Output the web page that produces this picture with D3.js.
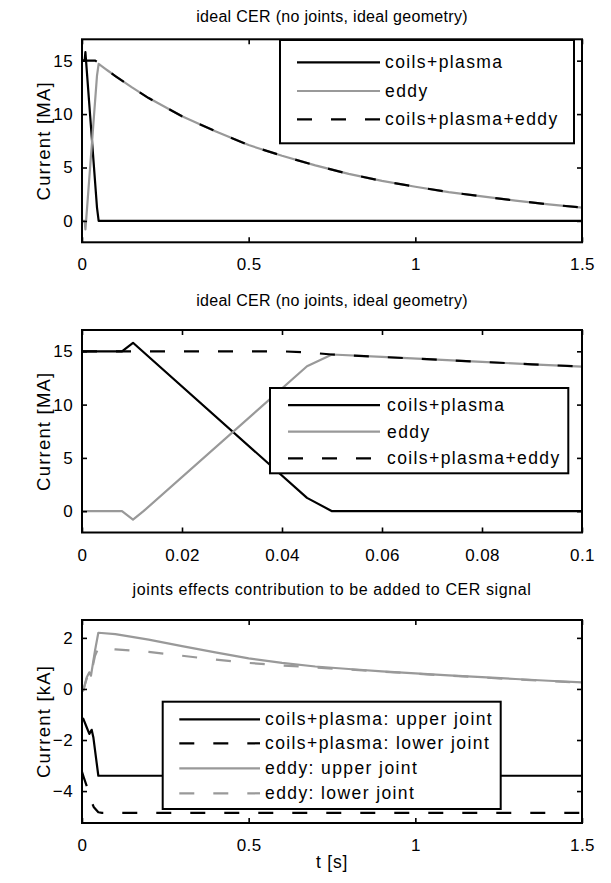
<!DOCTYPE html>
<html>
<head>
<meta charset="utf-8">
<script src="https://cdn.jsdelivr.net/npm/d3@7"></script>
<style>
  html, body { margin: 0; padding: 0; background: #fff; }
  svg { display: block; font-family: "Liberation Sans", Arial, Helvetica, sans-serif; }
</style>
</head>
<body>
<svg id="chart" width="611" height="883"></svg>
<script>
// ---------------- DATA ----------------
// Panels 1 & 2: currents in MA vs time in s
const coilsT = [0, 0.008, 0.0102, 0.045, 0.05, 1.5];
const coilsV = [15, 15, 15.8, 1.25, 0, 0];

const eddyT = [0, 0.008, 0.0102, 0.0123, 0.045, 0.05, 0.06, 0.07, 0.08, 0.09, 0.1,
               0.15, 0.2, 0.3, 0.4, 0.5, 0.6, 0.7, 0.8, 0.9, 1.0, 1.1, 1.2, 1.3, 1.4, 1.5];
const eddyV = [0, 0, -0.8, 0, 13.6, 14.7, 14.47, 14.24, 14.01, 13.78, 13.56,
               12.5, 11.5, 9.8, 8.4, 7.1, 6.1, 5.2, 4.4, 3.75, 3.2, 2.7, 2.3, 1.9, 1.55, 1.25];

const totalT = [0, 0.04, 0.045, 0.05, 0.06, 0.07, 0.08, 0.09, 0.1,
                0.15, 0.2, 0.3, 0.4, 0.5, 0.6, 0.7, 0.8, 0.9, 1.0, 1.1, 1.2, 1.3, 1.4, 1.5];
const totalV = [15, 15, 14.9, 14.7, 14.47, 14.24, 14.01, 13.78, 13.56,
                12.5, 11.5, 9.8, 8.4, 7.1, 6.1, 5.2, 4.4, 3.75, 3.2, 2.7, 2.3, 1.9, 1.55, 1.25];

// Panel 3: joint contributions in kA
const cpUpperT = [0, 0.004, 0.014, 0.022, 0.029, 0.034, 0.049, 1.5];
const cpUpperV = [-1.15, -1.17, -1.5, -1.76, -1.6, -1.89, -3.4, -3.4];

const cpLowerT = [0, 0.005, 0.014, 0.025, 0.035, 0.049, 0.06, 1.5];
const cpLowerV = [-3.25, -3.45, -3.8, -4.3, -4.62, -4.83, -4.85, -4.85];

const edUpperT = [0, 0.004, 0.014, 0.022, 0.027, 0.034, 0.039, 0.049, 0.1,
                  0.2, 0.3, 0.4, 0.5, 0.6, 0.7, 0.8, 0.9, 1.0, 1.1, 1.2, 1.3, 1.4, 1.5];
const edUpperV = [0, -0.05, 0.45, 0.65, 0.52, 1.1, 1.5, 2.2, 2.15,
                  1.93, 1.68, 1.43, 1.2, 1.02, 0.88, 0.78, 0.69, 0.61, 0.53, 0.46, 0.39, 0.32, 0.26];

const edLowerT = [0, 0.004, 0.014, 0.022, 0.027, 0.034, 0.039, 0.049, 0.1,
                  0.2, 0.3, 0.4, 0.5, 0.6, 0.7, 0.8, 0.9, 1.0, 1.1, 1.2, 1.3, 1.4, 1.5];
const edLowerV = [-0.1, -0.05, 0.4, 0.6, 0.5, 1.0, 1.3, 1.6, 1.55,
                  1.45, 1.3, 1.15, 1.02, 0.92, 0.84, 0.76, 0.68, 0.6, 0.52, 0.45, 0.38, 0.31, 0.24];

// Tick values
const xTicksLong = [0, 0.5, 1, 1.5];
const xTicksShort = [0, 0.02, 0.04, 0.06, 0.08, 0.1];
const yTicksMA = [0, 5, 10, 15];
const yTicksKA = [-4, -2, 0, 2];

// Texts
const titles = ["ideal CER (no joints, ideal geometry)",
                "ideal CER (no joints, ideal geometry)",
                "joints effects contribution to be added to CER signal"];
const yLabels = ["Current [MA]", "Current [MA]", "Current [kA]"];
const xLabel = "t [s]";
const legend12 = ["coils+plasma", "eddy", "coils+plasma+eddy"];
const legend3 = ["coils+plasma: upper joint", "coils+plasma: lower joint",
                 "eddy: upper joint", "eddy: lower joint"];

// ---------------- STYLE / LAYOUT ----------------
const BLACK = "#000", GRAY = "#999";
const DASH = "15,19";
const X0 = 82, X1 = 582;
const FONT = "Liberation Sans, Arial, sans-serif";

const zip = (T, V) => T.map((t, i) => ({t: t, v: V[i]}));

const panels = [
  { top: 39.3, bottom: 242.3, xdom: [0, 1.5], ydom: [-2, 17], xt: xTicksLong, yt: yTicksMA, titleY: 22, titleLS: 0.3,
    series: [
      {d: zip(coilsT, coilsV), c: BLACK, dash: null},
      {d: zip(eddyT, eddyV), c: GRAY, dash: null},
      {d: zip(totalT, totalV), c: BLACK, dash: DASH}],
    legend: {x0: 280, x1: 574, y0: 40, y1: 143.3, rows: [62.3, 91, 119.3], lx0: 297, lx1: 380, tx: 385, labels: legend12,
             styles: [[BLACK, null], [GRAY, null], [BLACK, DASH]]}
  },
  { top: 330, bottom: 532.5, xdom: [0, 0.1], ydom: [-2, 17], xt: xTicksShort, yt: yTicksMA, titleY: 306, titleLS: 0.3,
    series: [
      {d: zip(coilsT, coilsV), c: BLACK, dash: null},
      {d: zip(eddyT, eddyV), c: GRAY, dash: null},
      {d: zip(totalT, totalV), c: BLACK, dash: DASH}],
    legend: {x0: 270, x1: 568.3, y0: 388, y1: 473.3, rows: [405.2, 431.7, 458.3], lx0: 288, lx1: 380, tx: 387, labels: legend12,
             styles: [[BLACK, null], [GRAY, null], [BLACK, DASH]]}
  },
  { top: 620, bottom: 823, xdom: [0, 1.5], ydom: [-5.25, 2.7], xt: xTicksLong, yt: yTicksKA, titleY: 595, titleLS: 0.6,
    series: [
      {d: zip(edUpperT, edUpperV), c: GRAY, dash: null},
      {d: zip(edLowerT, edLowerV), c: GRAY, dash: DASH},
      {d: zip(cpUpperT, cpUpperV), c: BLACK, dash: null},
      {d: zip(cpLowerT, cpLowerV), c: BLACK, dash: DASH}],
    legend: {x0: 162.7, x1: 500.7, y0: 701.7, y1: 809, rows: [719.3, 743.3, 768.3, 793.3], lx0: 179.3, lx1: 260, tx: 265, labels: legend3,
             styles: [[BLACK, null], [BLACK, DASH], [GRAY, null], [GRAY, DASH]]}
  }
];

const svg = d3.select("#chart");
const fmt = d => d3.format("~g")(d);

panels.forEach((p, i) => {
  const x = d3.scaleLinear().domain(p.xdom).range([X0, X1]);
  const y = d3.scaleLinear().domain(p.ydom).range([p.bottom, p.top]);
  const g = svg.append("g");

  const cid = "clip" + i;
  svg.append("clipPath").attr("id", cid).append("rect")
    .attr("x", X0).attr("y", p.top).attr("width", X1 - X0).attr("height", p.bottom - p.top);

  const line = d3.line().x(d => x(d.t)).y(d => y(d.v));
  const lines = g.append("g").attr("clip-path", `url(#${cid})`);
  p.series.forEach(s => {
    lines.append("path").datum(s.d).attr("d", line)
      .attr("fill", "none").attr("stroke", s.c).attr("stroke-width", 2.2)
      .attr("stroke-linejoin", "round")
      .attr("stroke-dasharray", s.dash);
  });

  // axes: ticks inward on all four sides
  const tl = 5;
  const axB = d3.axisBottom(x).tickValues(p.xt).tickSize(-tl).tickPadding(16).tickFormat(fmt);
  const axT = d3.axisTop(x).tickValues(p.xt).tickSize(-tl).tickFormat("");
  const axL = d3.axisLeft(y).tickValues(p.yt).tickSize(-tl).tickPadding(9).tickFormat(fmt);
  const axR = d3.axisRight(y).tickValues(p.yt).tickSize(-tl).tickFormat("");
  [[axB, `translate(0,${p.bottom})`], [axT, `translate(0,${p.top})`],
   [axL, `translate(${X0},0)`], [axR, `translate(${X1},0)`]].forEach(([ax, tr]) => {
    const a = g.append("g").attr("transform", tr).call(ax);
    a.select(".domain").remove();
    a.selectAll("line").attr("stroke", "#000").attr("stroke-width", 1.6);
    a.selectAll("text").attr("font-size", 17).attr("fill", "#000")
      .attr("font-family", FONT).attr("letter-spacing", 0.4);
  });

  // frame
  g.append("rect").attr("x", X0).attr("y", p.top).attr("width", X1 - X0).attr("height", p.bottom - p.top)
    .attr("fill", "none").attr("stroke", "#000").attr("stroke-width", 2);

  // title
  g.append("text").attr("x", (X0 + X1) / 2).attr("y", p.titleY)
    .attr("text-anchor", "middle").attr("font-size", 16).attr("letter-spacing", p.titleLS).text(titles[i]);

  // y label
  g.append("text")
    .attr("transform", `translate(43,${(p.top + p.bottom) / 2}) rotate(-90)`)
    .attr("text-anchor", "middle").attr("dominant-baseline", "central")
    .attr("font-size", 18.5).attr("letter-spacing", 1.2).text(yLabels[i]);

  // legend
  const L = p.legend;
  const lg = g.append("g");
  lg.append("rect").attr("x", L.x0).attr("y", L.y0).attr("width", L.x1 - L.x0).attr("height", L.y1 - L.y0)
    .attr("fill", "#fff").attr("stroke", "#000").attr("stroke-width", 2);
  L.labels.forEach((lab, k) => {
    lg.append("line").attr("x1", L.lx0).attr("x2", L.lx1).attr("y1", L.rows[k]).attr("y2", L.rows[k])
      .attr("stroke", L.styles[k][0]).attr("stroke-width", 2.2).attr("stroke-dasharray", L.styles[k][1]);
    lg.append("text").attr("x", L.tx).attr("y", L.rows[k]).attr("dominant-baseline", "central")
      .attr("font-size", 17.5).attr("letter-spacing", 1.4).text(lab);
  });
});

// x label
svg.append("text").attr("x", (X0 + X1) / 2).attr("y", 868).attr("text-anchor", "middle")
  .attr("font-size", 17.5).attr("letter-spacing", 0.8).text(xLabel);
</script>
</body>
</html>
